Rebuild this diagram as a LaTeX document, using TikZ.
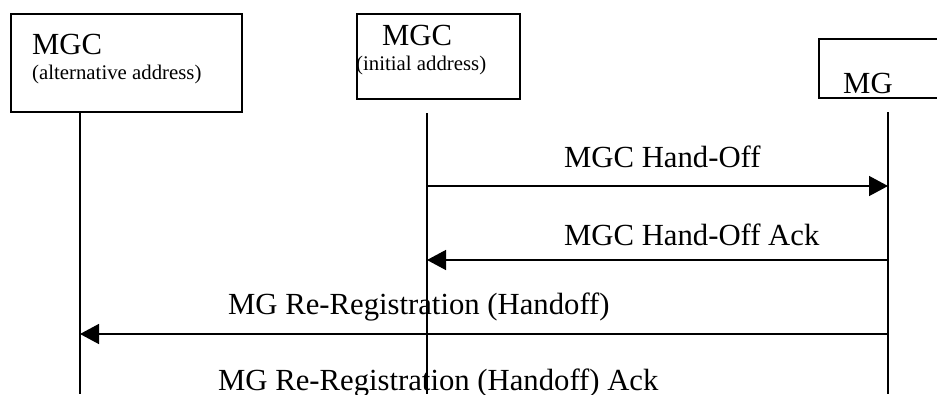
\documentclass[tikz,border=0pt]{standalone}
\usepackage{fontspec}
\setmainfont{Liberation Serif}
\usetikzlibrary{arrows.meta}
\begin{document}
\begin{tikzpicture}[x=1pt,y=-1pt,
  box/.style={draw,line width=1.4pt,inner sep=0pt},
  life/.style={line width=1.4pt},
  msg/.style={line width=1.4pt,-{Triangle[length=19pt,width=20pt]}},
  big/.style={inner sep=0pt,anchor=base west,font=\fontsize{30.7}{31}\selectfont},
  small/.style={inner sep=0pt,anchor=base west,font=\fontsize{20.8}{21}\selectfont}]
\clip (0,0) rectangle (937,394);
\fill[white] (0,0) rectangle (937,394);
% boxes
\draw[box] (11,14) rectangle (242,112);
\draw[box] (357,14) rectangle (520,99);
\draw[box] (819,39) rectangle (950,98);
\node[big] (t1) at (32,54) {MGC};
\node[small] (t1s) at (32,79) {(alternative address)};
\node[big] (t2) at (382,45) {MGC};
\node[small] (t2s) at (356,70) {(initial address)};
\node[big] (t3) at (843,93) {MG};
% lifelines
\coordinate (a0) at (80,112);  \coordinate (a1) at (80,394);
\coordinate (b0) at (427,113); \coordinate (b1) at (427,394);
\coordinate (c0) at (888,112); \coordinate (c1) at (888,394);
\draw[life] (a0) -- (a1);
\draw[life] (b0) -- (b1);
\draw[life] (c0) -- (c1);
% messages
\coordinate (m1s) at (427,186); \coordinate (m1e) at (888,186);
\coordinate (m2s) at (888,260); \coordinate (m2e) at (427,260);
\coordinate (m3s) at (888,334); \coordinate (m3e) at (80,334);
\draw[msg] (m1s) -- (m1e);
\draw[msg] (m2s) -- (m2e);
\draw[msg] (m3s) -- (m3e);
\node[big] (l1) at (564,167) {MGC Hand-Off};
\node[big] (l2) at (564,245) {MGC Hand-Off Ack};
\node[big] (l3) at (228,314) {MG Re-Registration (Handoff)};
\node[big] (l4) at (218,390) {MG Re-Registration (Handoff) Ack};
\end{tikzpicture}
\end{document}
